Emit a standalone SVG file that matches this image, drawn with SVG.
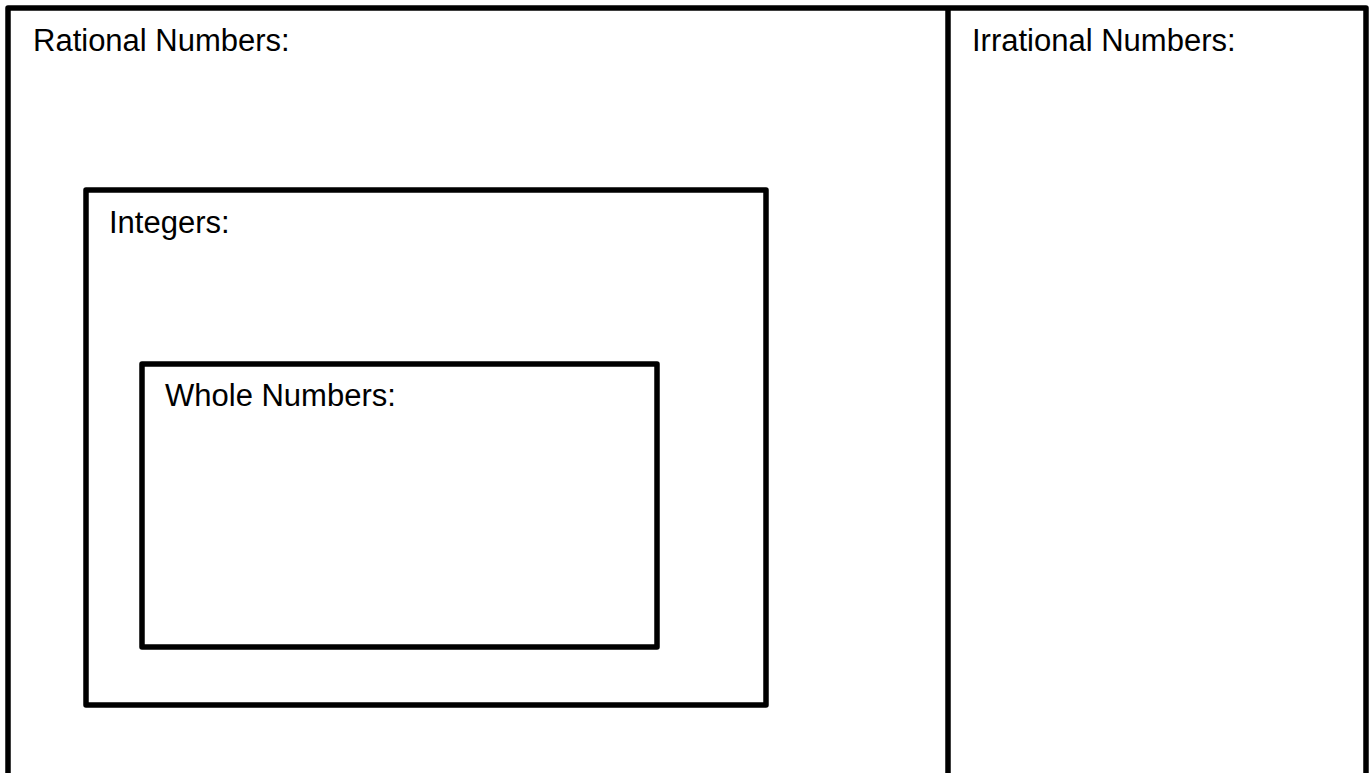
<svg xmlns="http://www.w3.org/2000/svg" width="1369" height="773" viewBox="0 0 1369 773">
<style>
.box{fill:none;stroke:#000;stroke-width:5.5;stroke-linejoin:round}
.lbl{font-family:"Liberation Sans",Arial,sans-serif;font-size:31px;fill:#000}
</style>
<rect width="1369" height="773" fill="#fff"/>
<g id="rational">
<rect class="box" x="8" y="8" width="1358" height="800"/>
<text class="lbl" x="33" y="51">Rational Numbers:</text>
</g>
<g id="irrational">
<line class="box" x1="948" y1="8" x2="948" y2="800"/>
<text class="lbl" x="972" y="51">Irrational Numbers:</text>
</g>
<g id="integers">
<rect class="box" x="86" y="190" width="680" height="515"/>
<text class="lbl" x="109" y="233">Integers:</text>
</g>
<g id="whole">
<rect class="box" x="142" y="364" width="515" height="283"/>
<text class="lbl" x="165" y="406">Whole Numbers:</text>
</g>
<g id="connectors"></g>
</svg>
